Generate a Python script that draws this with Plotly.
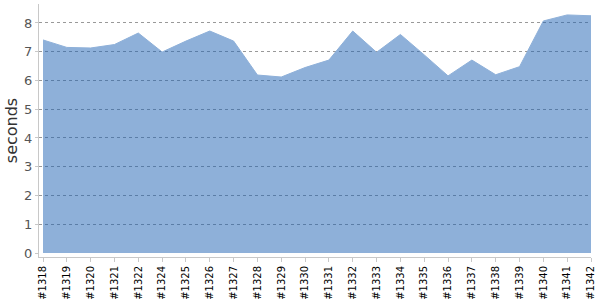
import plotly.graph_objects as go

builds = ["#1318", "#1319", "#1320", "#1321", "#1322", "#1324", "#1325", "#1326",
          "#1327", "#1328", "#1329", "#1330", "#1331", "#1332", "#1333", "#1334",
          "#1335", "#1336", "#1337", "#1338", "#1339", "#1340", "#1341", "#1342"]
seconds = [7.41, 7.15, 7.13, 7.25, 7.65, 6.99, 7.37, 7.72,
           7.37, 6.19, 6.12, 6.45, 6.71, 7.72, 6.98, 7.6,
           6.89, 6.16, 6.71, 6.2, 6.48, 8.07, 8.28, 8.25]
y_ticks = [0, 1, 2, 3, 4, 5, 6, 7, 8]

idx = list(range(len(builds)))
y_range = [-0.139, 8.66]

fig = go.Figure(go.Scatter(
    x=idx, y=seconds, mode="lines", fill="tozeroy",
    fillcolor="rgba(29,97,179,0.5)",
    line=dict(color="rgba(142,176,217,1)", width=1),
    hoverinfo="skip",
))

fig.update_layout(
    width=600, height=300,
    margin=dict(l=39, r=9, t=4, b=43),
    paper_bgcolor="white", plot_bgcolor="white",
    showlegend=False,
    font=dict(family="DejaVu Sans", color="#444"),
    yaxis2=dict(
        overlaying="y", range=y_range, tickmode="array", tickvals=y_ticks[1:],
        showticklabels=False, showgrid=True, gridcolor="#999", griddash="dot",
        gridwidth=1, zeroline=False, showline=False, ticks="", automargin=False,
    ),
)
fig.update_xaxes(
    range=[-0.168, len(builds) - 1], automargin=False,
    tickmode="array", tickvals=idx, ticktext=builds,
    tickangle=-90, tickfont=dict(family="DejaVu Sans", size=10, color="#000"),
    showgrid=False, zeroline=False,
    showline=True, linecolor="#c8c8c8", linewidth=1,
    ticks="outside", ticklen=4, tickcolor="#c8c8c8",
)
fig.update_yaxes(
    selector=dict(overlaying=None),
    range=y_range, automargin=False,
    tickmode="array", tickvals=y_ticks,
    tickfont=dict(family="DejaVu Sans", size=13, color="#555"),
    showgrid=False, zeroline=False,
    showline=True, linecolor="#c8c8c8", linewidth=1,
    ticks="outside", ticklen=3, tickcolor="#c8c8c8",
    title=dict(text="seconds", font=dict(family="DejaVu Sans", size=16, color="#333"), standoff=2),
)
# invisible trace on yaxis2 so the overlay axis is drawn
fig.add_trace(go.Scatter(x=[idx[0]], y=[seconds[0]], yaxis="y2", mode="markers",
                         marker=dict(opacity=0), hoverinfo="skip"))

fig.write_html("out.html")
